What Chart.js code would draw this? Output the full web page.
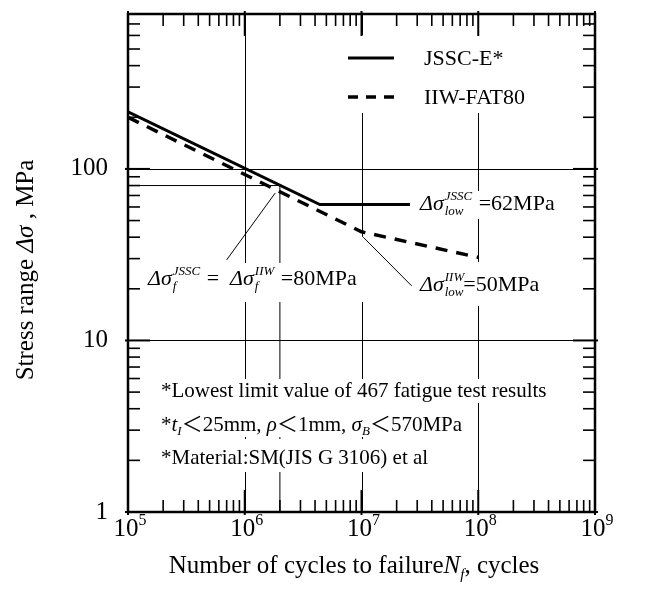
<!DOCTYPE html>
<html><head><meta charset="utf-8">
<script src="https://cdn.jsdelivr.net/npm/chart.js@4.4.1/dist/chart.umd.min.js"></script>
<style>html,body{margin:0;padding:0;background:#fff;}</style>
</head><body>
<canvas id="c" width="648" height="590"></canvas>
<script>
// ---- data ----
const seriesNames = ['JSSC-E*', 'IIW-FAT80'];
const jsscN = [1e5, 4.4e6, 2.6e7];
const jsscS = [215, 62, 62];
const iiwN = [1e5, 1e7, 1e8];
const iiwS = [200, 43, 30.5];
const xDecades = [1e5, 1e6, 1e7, 1e8, 1e9];
const xTickExp = ['5', '6', '7', '8', '9'];
const yDecades = [1, 10, 100];
const yTickLabels = ['1', '10', '100'];
const xGridVals = [1e6, 1e7, 1e8];
const yGridVals = [10, 100];
const refN = 2e6, refS = 80;
const leaderA = [[1.82e6, 72.2], [7.0e5, 29.5]];
const leaderB = [[1.035e7, 40], [2.69e7, 20.8]];
const noteLines = [
  '*Lowest limit value of 467 fatigue test results',
  '*t1<25mm, ρ<1mm, σB<570MPa',
  '*Material:SM(JIS G 3106) et al'
];

const FF = '"Liberation Serif", "Times New Roman", "Noto Sans CJK JP", serif';
function font(sz, it) { return (it ? 'italic ' : '') + sz + 'px ' + FF; }

function segWidth(ctx, s) {
  if (s.sup !== undefined || s.sub !== undefined) {
    ctx.font = font(s.sz, true);
    return Math.max(ctx.measureText(s.sup || '').width, ctx.measureText(s.sub || '').width) + (s.pad || 0);
  }
  ctx.font = font(s.sz, s.it);
  return ctx.measureText(s.t).width;
}
function richWidth(ctx, segs) { return segs.reduce((a, s) => a + segWidth(ctx, s), 0); }
function drawRich(ctx, x, y, segs, mask) {
  const w = richWidth(ctx, segs);
  if (mask) {
    ctx.fillStyle = '#fff';
    ctx.fillRect(x - 3, y - mask[0], w + 6 + (mask[2] || 0), mask[0] + mask[1]);
  }
  ctx.fillStyle = '#000';
  ctx.textBaseline = 'alphabetic';
  ctx.textAlign = 'left';
  let cx = x;
  for (const s of segs) {
    if (s.sup !== undefined || s.sub !== undefined) {
      ctx.font = font(s.sz, true);
      if (s.sup) ctx.fillText(s.sup, cx + 1, y + (s.supDy || -10));
      if (s.sub) ctx.fillText(s.sub, cx + 1, y + (s.subDy || 5));
    } else {
      ctx.font = font(s.sz, s.it);
      ctx.fillText(s.t, cx, y + (s.dy || 0));
    }
    cx += segWidth(ctx, s);
  }
  return w;
}

const L = 22, S = 13;
const label62 = [{t: 'Δσ', it: true, sz: L}, {sup: 'JSSC', sub: 'low', sz: S, pad: 2}, {t: ' =62MPa', sz: L}];
const label80 = [{t: 'Δσ', it: true, sz: L}, {sup: 'JSSC', sub: 'f', sz: S, pad: 2}, {t: ' =  ', sz: L},
                 {t: 'Δσ', it: true, sz: L}, {sup: 'IIW', sub: 'f', sz: S, pad: 2}, {t: ' =80MPa', sz: L}];
const label50 = [{t: 'Δσ', it: true, sz: L}, {sup: 'IIW', sub: 'low', sz: S, pad: 0}, {t: '=50MPa', sz: L}];
const N = 21, NS = 13;
const note2 = [{t: '*', sz: N}, {t: 't', it: true, sz: N}, {t: 'I', it: true, sz: NS, dy: 4}, {t: '＜25mm, ', sz: N},
               {t: 'ρ', it: true, sz: N}, {t: '＜1mm, ', sz: N}, {t: 'σ', it: true, sz: N},
               {t: 'B', it: true, sz: NS, dy: 4}, {t: '＜570MPa', sz: N}];

const decor = {
  id: 'decor',
  beforeDatasetsDraw(chart) {
    const {ctx, chartArea: a, scales: {x, y}} = chart;
    ctx.save();
    ctx.strokeStyle = '#000';
    ctx.lineWidth = 1;
    for (const v of xGridVals) {
      const px = Math.round(x.getPixelForValue(v)) + 0.5;
      ctx.beginPath(); ctx.moveTo(px, a.top); ctx.lineTo(px, a.bottom); ctx.stroke();
    }
    for (const v of yGridVals) {
      const py = Math.round(y.getPixelForValue(v)) + 0.5;
      ctx.beginPath(); ctx.moveTo(a.left - 3, py); ctx.lineTo(a.right + 3, py); ctx.stroke();
    }
    // reference lines at Δσf = 80 MPa, N = 2e6
    const rx = x.getPixelForValue(refN), ry = y.getPixelForValue(refS);
    ctx.beginPath(); ctx.moveTo(a.left, ry); ctx.lineTo(rx, ry); ctx.stroke();
    ctx.beginPath(); ctx.moveTo(rx, ry); ctx.lineTo(rx, a.bottom); ctx.stroke();
    // masks behind legend
    ctx.fillStyle = '#fff';
    ctx.fillRect(338, 35, 250, 78);
    // gap in the 1e7 line below the IIW knee
    const kx = x.getPixelForValue(iiwN[1]), ky = y.getPixelForValue(iiwS[1]);
    ctx.fillRect(kx - 3, ky + 5, 6, 263 - (ky + 5));
    // labels (with white backgrounds)
    drawRich(ctx, 420, 210, label62, [19, 9]);
    drawRich(ctx, 148, 285, label80, [22, 17, 8]);
    drawRich(ctx, 420, 291, label50, [29, 15]);
    // note block
    ctx.font = font(N, false);
    ctx.fillStyle = '#fff';
    const base = [397, 431, 464];
    const w1 = richWidth(ctx, [{t: noteLines[0], sz: N}]);
    ctx.fillRect(158, base[0] - 18, w1 + 6, 24);
    const w2 = richWidth(ctx, note2);
    ctx.fillRect(158, base[0] + 6, w2 + 6, 34);
    const w3 = richWidth(ctx, [{t: noteLines[2], sz: N}]);
    ctx.fillRect(158, base[1] + 8, w3 + 6, 33);
    drawRich(ctx, 161, base[0], [{t: noteLines[0], sz: N}]);
    drawRich(ctx, 161, base[1], note2);
    drawRich(ctx, 161, base[2], [{t: noteLines[2], sz: N}]);
    ctx.restore();
  },
  afterDatasetsDraw(chart) {
    const {ctx, chartArea: a, scales: {x, y}} = chart;
    ctx.save();
    ctx.strokeStyle = '#000';
    // leader lines
    ctx.lineWidth = 1;
    for (const ld of [leaderA, leaderB]) {
      ctx.beginPath();
      ctx.moveTo(x.getPixelForValue(ld[0][0]), y.getPixelForValue(ld[0][1]));
      ctx.lineTo(x.getPixelForValue(ld[1][0]), y.getPixelForValue(ld[1][1]));
      ctx.stroke();
    }
    // legend
    const ds = chart.data.datasets;
    const rows = [58, 97];
    ds.forEach((d, i) => {
      ctx.save();
      ctx.lineWidth = d.borderWidth;
      ctx.setLineDash(d.borderDash ? [10, 8] : []);
      ctx.beginPath(); ctx.moveTo(348, rows[i]); ctx.lineTo(394, rows[i]); ctx.stroke();
      ctx.restore();
      ctx.fillStyle = '#000';
      ctx.font = font(22, false);
      ctx.textBaseline = 'middle';
      ctx.textAlign = 'left';
      ctx.fillText(d.label, 424, rows[i] + 1);
    });
    // ticks (inside, all four sides)
    const xt = [], yt = [];
    for (let d = 1e5; d < 1e9 * 1.01; d *= 10) for (let k = 1; k <= 9; k++) { const v = k * d; if (v <= 1e9 * 1.0001) xt.push([v, k === 1]); }
    for (let d = 1; d < 800; d *= 10) for (let k = 1; k <= 9; k++) { const v = k * d; if (v <= 800 * 1.0001) yt.push([v, k === 1]); }
    for (const [v, maj] of xt) {
      const px = x.getPixelForValue(v);
      const len = maj ? 22 : 12;
      ctx.lineWidth = maj ? 2 : 1.6;
      ctx.beginPath(); ctx.moveTo(px, a.bottom + (maj ? 3 : 0)); ctx.lineTo(px, a.bottom - len); ctx.stroke();
      ctx.beginPath(); ctx.moveTo(px, a.top - (maj ? 3 : 0)); ctx.lineTo(px, a.top + len); ctx.stroke();
    }
    for (const [v, maj] of yt) {
      const py = y.getPixelForValue(v);
      const len = maj ? 22 : 12;
      ctx.lineWidth = maj ? 2 : 1.6;
      ctx.beginPath(); ctx.moveTo(a.left - (maj ? 3 : 0), py); ctx.lineTo(a.left + len, py); ctx.stroke();
      ctx.beginPath(); ctx.moveTo(a.right + (maj ? 3 : 0), py); ctx.lineTo(a.right - len, py); ctx.stroke();
    }
    // border
    ctx.lineWidth = 2.5;
    ctx.strokeRect(a.left, a.top, a.right - a.left, a.bottom - a.top);
    // tick labels
    ctx.fillStyle = '#000';
    ctx.textBaseline = 'middle';
    ctx.textAlign = 'right';
    ctx.font = font(25, false);
    yDecades.forEach((v, i) => ctx.fillText(yTickLabels[i], 108, y.getPixelForValue(v)));
    xDecades.forEach((v, i) => {
      const segs = [{t: '10', sz: 25}, {t: xTickExp[i], sz: 16, dy: -11}];
      const w = richWidth(ctx, segs);
      drawRich(ctx, x.getPixelForValue(v) - w / 2 + 2, 536, segs);
    });
    // axis titles
    const xt2 = [{t: 'Number of cycles to failure', sz: 25}, {t: 'N', it: true, sz: 25}, {t: 'f', it: true, sz: 15, dy: 6}, {t: ', cycles', sz: 25}];
    const wx = richWidth(ctx, xt2);
    drawRich(ctx, 354 - wx / 2, 573, xt2);
    ctx.translate(33, 270);
    ctx.rotate(-Math.PI / 2);
    const yt2 = [{t: 'Stress range ', sz: 25}, {t: 'Δσ', it: true, sz: 25}, {t: ' , MPa', sz: 25}];
    const wy = richWidth(ctx, yt2);
    drawRich(ctx, -wy / 2, 0, yt2);
    ctx.restore();
  }
};

new Chart(document.getElementById('c'), {
  type: 'line',
  data: {
    datasets: [
      {label: seriesNames[0], data: jsscN.map((n, i) => ({x: n, y: jsscS[i]})), borderColor: '#000', borderWidth: 3, pointRadius: 0, fill: false, tension: 0},
      {label: seriesNames[1], data: iiwN.map((n, i) => ({x: n, y: iiwS[i]})), borderColor: '#000', borderWidth: 3.5, borderDash: [12, 9], pointRadius: 0, fill: false, tension: 0}
    ]
  },
  options: {
    responsive: false,
    animation: false,
    layout: {padding: {left: 128, right: 53, top: 14, bottom: 78}},
    scales: {
      x: {type: 'logarithmic', min: 1e5, max: 1e9, display: false},
      y: {type: 'logarithmic', min: 1, max: 800, display: false}
    },
    plugins: {legend: {display: false}, tooltip: {enabled: false}}
  },
  plugins: [decor]
});
</script>
</body></html>
